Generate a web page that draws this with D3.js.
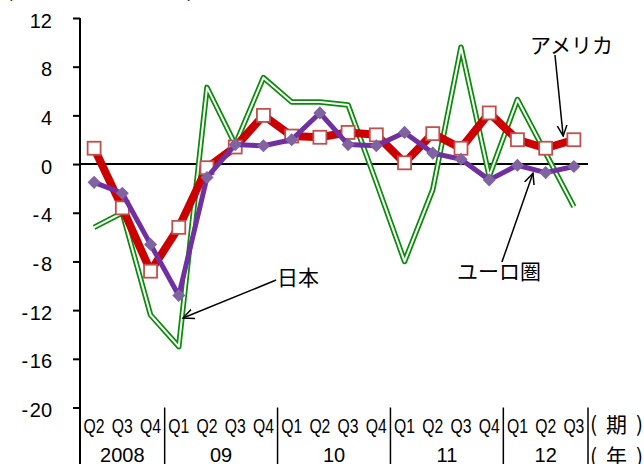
<!DOCTYPE html>
<html>
<head>
<meta charset="utf-8">
<script src="https://cdn.jsdelivr.net/npm/d3@7"></script>
<style>
  html, body { margin: 0; padding: 0; background: #fff; }
  svg { display: block; }
  text { font-family: "Liberation Sans", Arial, sans-serif; fill: #000; }
  .jp { font-family: "Noto Sans CJK JP", "Noto Sans", sans-serif; }
</style>
</head>
<body>
<svg id="chart" width="644" height="464"></svg>
<script>
// Real GDP growth, quarter on quarter (annualised, %)
const quarters = ["Q2","Q3","Q4","Q1","Q2","Q3","Q4","Q1","Q2","Q3","Q4","Q1","Q2","Q3","Q4","Q1","Q2","Q3"];
const yearLabels = ["2008", "09", "10", "11", "12"];
const yearStarts = [0, 3, 7, 11, 15, 18];   // index where each year block begins
const yTicks = [-20, -16, -12, -8, -4, 0, 4, 8, 12];

const usa   = [1.3, -3.6, -8.8, -5.2, -0.3, 1.4, 4.0, 2.3, 2.2, 2.6, 2.4, 0.1, 2.5, 1.3, 4.2, 2.0, 1.3, 2.0];
const euro  = [-1.5, -2.4, -6.6, -10.8, -1.1, 1.6, 1.5, 2.0, 4.2, 1.6, 1.5, 2.6, 0.9, 0.4, -1.3, -0.1, -0.7, -0.2];
const japan = [-5.2, -4.0, -12.4, -15.0, 6.3, 1.6, 7.1, 5.1, 5.1, 4.85, -1.5, -8.0, -2.1, 9.6, -1.0, 5.3, 0.9, -3.5];

const svg = d3.select("#chart");
const plotL = 80, plotR = 588, plotT = 18, plotB = 407.5;

const x = d3.scaleBand().domain(d3.range(quarters.length)).range([plotL, plotR]).padding(0);
const bw = x.bandwidth();
const xc = i => plotL + (i + 0.5) * bw;          // centre of (fractional) quarter index
const y = d3.scaleLinear().domain([-20, 12]).range([plotB, plotT]);

// arrowhead for the series callouts
svg.append("defs").append("marker")
  .attr("id", "arrow").attr("markerUnits", "userSpaceOnUse")
  .attr("viewBox", "0 0 12 12").attr("refX", 11).attr("refY", 6)
  .attr("markerWidth", 12).attr("markerHeight", 12).attr("orient", "auto")
  .append("path").attr("d", "M0,1 L11,6 L0,11")
  .attr("fill", "none").attr("stroke", "#000").attr("stroke-width", 1.5);

// unit caption at top (mostly outside the frame)
svg.append("text").attr("class", "jp").attr("x", 5).attr("y", -3)
  .attr("font-size", 20).attr("textLength", 190).attr("lengthAdjust", "spacingAndGlyphs")
  .text("(前期比年率、%)");

// y axis
const yAxis = d3.axisLeft(y).tickValues(yTicks).tickSize(7).tickSizeOuter(0).tickPadding(21)
  .tickFormat(d => d < 0 ? "-\u200A" + Math.abs(d) : String(d));
const gy = svg.append("g").attr("transform", `translate(${plotL},0)`).call(yAxis);
gy.select(".domain").remove();
gy.selectAll(".tick line").attr("stroke", "#000").attr("stroke-width", 2);
gy.selectAll(".tick text").attr("font-size", 20).attr("dy", "0.45em")
  .attr("font-family", "Liberation Sans, Arial, sans-serif").attr("fill", "#000");

svg.append("line").attr("x1", plotL).attr("x2", plotL).attr("y1", plotT).attr("y2", 464)
  .attr("stroke", "#000").attr("stroke-width", 2);

// zero line
svg.append("line").attr("x1", plotL).attr("x2", plotR).attr("y1", y(0)).attr("y2", y(0))
  .attr("stroke", "#000").attr("stroke-width", 2);

// year separators below the plot
svg.selectAll("line.sep").data(yearStarts.slice(1)).enter().append("line")
  .attr("class", "sep")
  .attr("x1", d => plotL + d * bw).attr("x2", d => plotL + d * bw)
  .attr("y1", plotB).attr("y2", 464)
  .attr("stroke", "#000").attr("stroke-width", 1.5);

// quarter labels
svg.selectAll("text.q").data(quarters).enter().append("text")
  .attr("class", "q")
  .attr("x", (d, i) => xc(i)).attr("y", 433)
  .attr("text-anchor", "middle").attr("font-size", 21)
  .attr("textLength", 21).attr("lengthAdjust", "spacingAndGlyphs")
  .text(d => d);

// year labels
svg.selectAll("text.yr").data(yearLabels).enter().append("text")
  .attr("class", "yr")
  .attr("x", (d, i) => plotL + (yearStarts[i] + yearStarts[i + 1]) / 2 * bw)
  .attr("y", 462).attr("text-anchor", "middle").attr("font-size", 20)
  .text(d => d);

svg.append("text").attr("class", "jp").attr("x", 590).attr("y", 432)
  .attr("font-size", 21).attr("textLength", 53).attr("lengthAdjust", "spacing")
  .text("( 期 )");
svg.append("text").attr("class", "jp").attr("x", 590).attr("y", 464)
  .attr("font-size", 21).attr("textLength", 53).attr("lengthAdjust", "spacing")
  .text("( 年 )");

const line = d3.line().x((d, i) => xc(i)).y(d => y(d));

// Japan: hollow green double line
svg.append("path").attr("d", line(japan)).attr("fill", "none")
  .attr("stroke", "#0a8c0a").attr("stroke-width", 5.5).attr("stroke-linejoin", "round");
svg.append("path").attr("d", line(japan)).attr("fill", "none")
  .attr("stroke", "#fff").attr("stroke-width", 2).attr("stroke-linejoin", "round");

// USA: thick red line with open squares
svg.append("path").attr("d", line(usa)).attr("fill", "none")
  .attr("stroke", "#cc0000").attr("stroke-width", 8).attr("stroke-linejoin", "round");
svg.selectAll("rect.us").data(usa).enter().append("rect")
  .attr("class", "us")
  .attr("x", (d, i) => xc(i) - 6.5).attr("y", d => y(d) - 6.5)
  .attr("width", 13).attr("height", 13)
  .attr("fill", "#fff").attr("stroke", "#c0504d").attr("stroke-width", 1.8);

// Euro area: purple line with diamonds
svg.append("path").attr("d", line(euro)).attr("fill", "none")
  .attr("stroke", "#7030a0").attr("stroke-width", 5).attr("stroke-linejoin", "round");
svg.selectAll("path.eu").data(euro).enter().append("path")
  .attr("class", "eu")
  .attr("d", d3.symbol().type(d3.symbolDiamond2).size(110))
  .attr("transform", (d, i) => `translate(${xc(i)},${y(d)})`)
  .attr("fill", "#8064a2");

// callouts
const callouts = [
  { label: "アメリカ", tx: 530, ty: 53, from: [16.33, 8.96], to: [16.62, 2.3] },
  { label: "ユーロ圏", tx: 457, ty: 279, from: [14.45, -8.05], to: [15.55, -0.75] },
  { label: "日本",     tx: 277, ty: 285, from: [6.45, -9.53], to: [3.15, -12.65] }
];
callouts.forEach(c => {
  svg.append("line")
    .attr("x1", xc(c.from[0])).attr("y1", y(c.from[1]))
    .attr("x2", xc(c.to[0])).attr("y2", y(c.to[1]))
    .attr("stroke", "#000").attr("stroke-width", 1.5)
    .attr("marker-end", "url(#arrow)");
  svg.append("text").attr("class", "jp").attr("x", c.tx).attr("y", c.ty)
    .attr("font-size", 21).text(c.label);
});
</script>
</body>
</html>
